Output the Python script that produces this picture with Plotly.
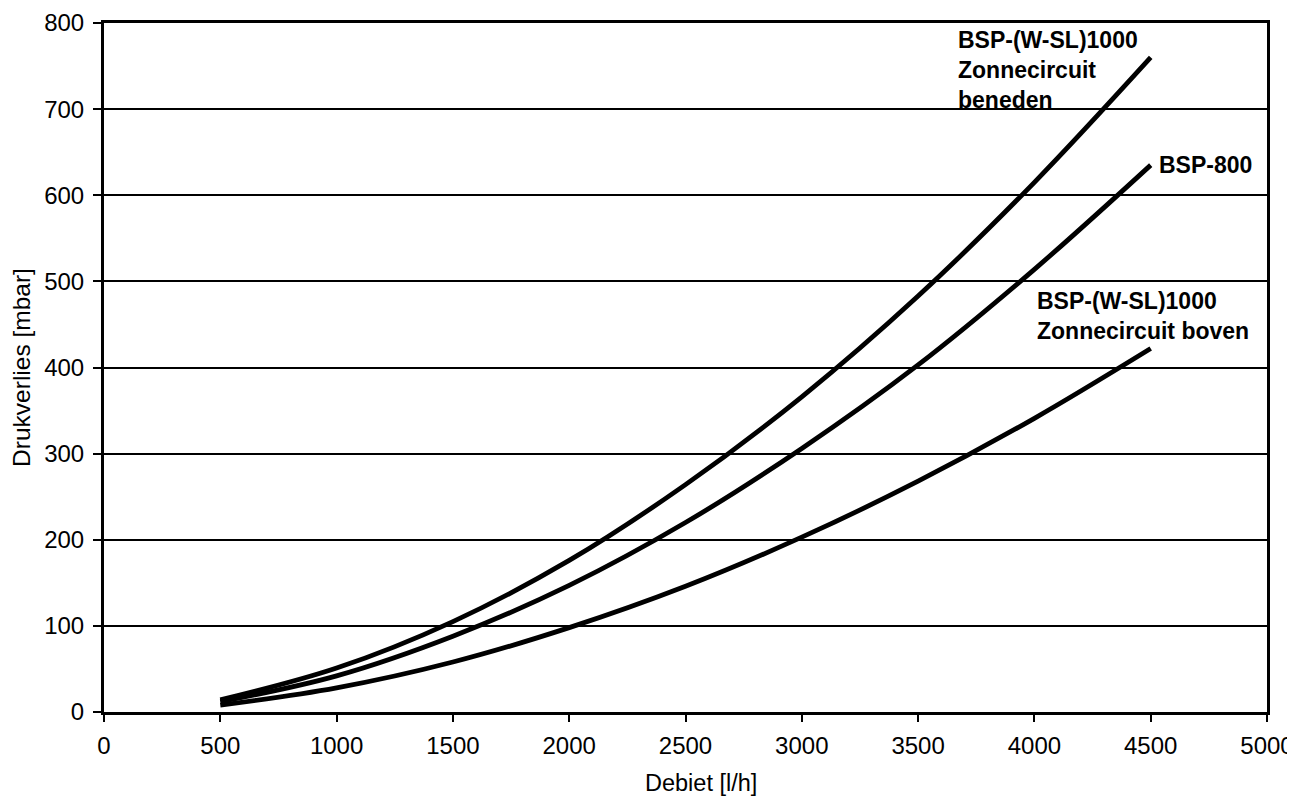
import plotly.graph_objects as go

# Debiet [l/h]
debiet = [500, 1000, 1500, 2000, 2500, 3000, 3500, 4000, 4500]

# Drukverlies [mbar] per curve
beneden = [14, 51, 105, 176, 264, 366, 483, 615, 760]
bsp800 = [12, 42, 88, 147, 220, 306, 403, 514, 635]
boven = [8, 28, 58, 98, 146, 203, 268, 341, 422]

labels = [
    ("BSP-(W-SL)1000<br>Zonnecircuit<br>beneden", 3663, 745),
    ("BSP-800", 4527, 635),
    ("BSP-(W-SL)1000<br>Zonnecircuit boven", 4003, 460),
]

font = "Liberation Sans, Arial, sans-serif"

fig = go.Figure()
for name, ys in [("beneden", beneden), ("BSP-800", bsp800), ("boven", boven)]:
    fig.add_trace(go.Scatter(
        x=debiet, y=ys, name=name, mode="lines",
        line=dict(color="black", width=4.8, shape="spline"),
    ))

for txt, x, y in labels:
    fig.add_annotation(
        x=x, y=y, text="<b>" + txt + "</b>", showarrow=False,
        xanchor="left", yanchor="middle", align="left",
        font=dict(size=23, color="black", family=font),
    )

# x title sits a bit lower/right than plotly's own title would
fig.add_annotation(
    x=0.513, y=0, xref="paper", yref="paper", yshift=-71,
    text="Debiet [l/h]", showarrow=False,
    xanchor="center", yanchor="middle",
    font=dict(size=23.5, color="black", family=font),
)

# page body adds an 8px offset, so the figure is a bit smaller
fig.update_layout(
    width=1287, height=788,
    margin=dict(l=96, r=28, t=15, b=84),
    paper_bgcolor="white", plot_bgcolor="white",
    showlegend=False,
    font=dict(family=font, size=24, color="black"),
)
fig.update_xaxes(
    range=[0, 5000], dtick=500, tick0=0, automargin=False,
    showgrid=False, zeroline=False,
    showline=True, linecolor="black", linewidth=3, mirror=True,
    ticks="outside", ticklen=7, tickwidth=1.5, tickcolor="black",
    ticklabelstandoff=3,
)
fig.update_yaxes(
    range=[0, 800], dtick=100, tick0=0, automargin=False,
    showgrid=True, gridcolor="black", gridwidth=1.5, zeroline=False,
    showline=True, linecolor="black", linewidth=3, mirror=True,
    ticks="outside", ticklen=8, tickwidth=1.5, tickcolor="black",
    ticklabelstandoff=4,
    title=dict(text="Drukverlies [mbar]", standoff=9, font=dict(size=24.5)),
)

fig.write_html("out.html")
